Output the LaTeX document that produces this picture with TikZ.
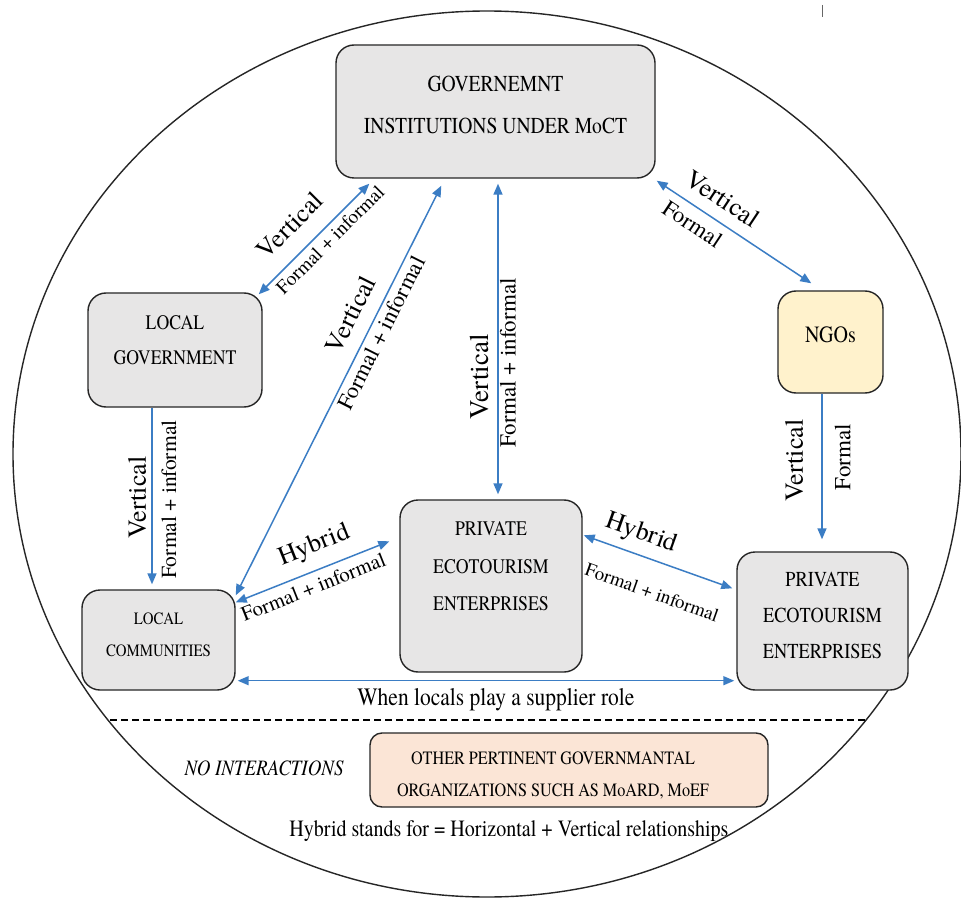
\documentclass[tikz,border=0pt]{standalone}
\usepackage{fontspec}
\setmainfont{texgyretermes}[Extension=.otf, UprightFont=*-regular,
  ItalicFont=*-italic, BoldFont=*-bold, BoldItalicFont=*-bolditalic]
\newfontfamily\narrowfont{texgyretermes}[Extension=.otf, UprightFont=*-regular,
  ItalicFont=*-italic, BoldFont=*-bold, BoldItalicFont=*-bolditalic, FakeStretch=0.86]
\usetikzlibrary{arrows.meta,calc}

\definecolor{linkblue}{RGB}{59,125,196}
\definecolor{boxgray}{RGB}{231,230,230}
\definecolor{ngoyellow}{RGB}{255,242,204}
\definecolor{otherpeach}{RGB}{251,229,214}

\newcommand\fsz[2]{\fontsize{#1}{#2}\selectfont}

\begin{document}
\begin{tikzpicture}[x=1pt,y=-1pt,
  >={Triangle[length=11pt,width=9pt]},
  actor/.style={draw=black!85, line width=1.4pt, rounded corners=18pt,
                fill=boxgray, inner sep=0pt},
  boxtext/.style={align=center, inner sep=0pt, text=black},
  link/.style={draw=linkblue, line width=1.5pt},
  linkboth/.style={link, <->},
  linkback/.style={link, <-},
  lbl/.style={sloped, inner sep=0pt, text=black},
]
\useasboundingbox (0,0) rectangle (961,901);
\fill[white] (0,0) rectangle (961,901);

% enclosing oval
\draw[line width=1.4pt, black!85] (487,454) ellipse [x radius=474pt, y radius=443pt];
\draw[line width=0.8pt, black!60] (822,5) -- (822,17);

% separator between interacting and non-interacting actors
\begin{scope}
  \clip (487,454) ellipse [x radius=474pt, y radius=443pt];
  \draw[line width=1.2pt, dash pattern=on 7pt off 4pt] (0,720) -- (961,720);
\end{scope}

% actors
\node[actor, minimum width=319pt, minimum height=133pt] (gov) at (495.5,111.5) {};
\node[boxtext, font=\narrowfont\fsz{22.8}{42}] (govtxt) at (495.5,105)
  {GOVERNEMNT\\INSTITUTIONS UNDER MoCT};

\node[actor, minimum width=174pt, minimum height=114pt] (lg) at (175,350) {};
\node[boxtext, font=\narrowfont\fsz{20.6}{35}] (lgtxt) at (175,340)
  {LOCAL\\GOVERNMENT};

\node[actor, minimum width=153pt, minimum height=100pt] (lc) at (158.5,640) {};
\node[boxtext, font=\narrowfont\fsz{17.3}{32}] (lctxt) at (158.5,634.5)
  {LOCAL\\COMMUNITIES};

\node[actor, minimum width=182pt, minimum height=172pt] (pr1) at (491,586) {};
\node[boxtext, font=\narrowfont\fsz{20.7}{37.5}] (pr1txt) at (491,566.5)
  {PRIVATE\\ECOTOURISM\\ENTERPRISES};

\node[actor, minimum width=171pt, minimum height=138pt] (pr2) at (822.5,621) {};
\node[boxtext, font=\narrowfont\fsz{21.3}{36}] (pr2txt) at (822.5,615.5)
  {PRIVATE\\ECOTOURISM\\ENTERPRISES};

\node[actor, fill=ngoyellow, minimum width=105pt, minimum height=102pt] (ngo) at (830.5,342) {};
\node[boxtext, font=\narrowfont\fsz{23.3}{28}] (ngotxt) at (830.5,334.5) {NGOs};

\node[actor, fill=otherpeach, rounded corners=12pt, minimum width=398pt, minimum height=74pt] (oth) at (569,770) {};
\node[boxtext, font=\narrowfont\fsz{18.8}{32}] (othtxt) at (553,775)
  {OTHER PERTINENT GOVERNMANTAL\\ORGANIZATIONS SUCH AS MoARD, MoEF};

\node[inner sep=0pt, font=\narrowfont\itshape\fsz{22}{26}] (noint) at (264,768) {NO INTERACTIONS};
\node[inner sep=0pt, font=\narrowfont\fsz{23.3}{28}] (legend) at (509,831)
  {Hybrid stands for = Horizontal + Vertical relationships};

% relationships
\draw[linkboth] ($(lg.north east)+(-4,2)$) --
  node[lbl, pos=.45, above=17pt, font=\fsz{26}{30}] (l1a) {Vertical}
  node[lbl, pos=.57, below=4.4pt, font=\fsz{19.5}{22}] (l1b) {Formal + informal}
  ($(gov.south west)+(34,5)$);

\draw[linkboth] ($(lc.north east)+(0,6)$) --
  node[lbl, pos=.66, above=13.7pt, font=\fsz{26}{30}] (l2a) {Vertical}
  node[lbl, pos=.654, below=3.8pt, font=\fsz{22.8}{26}] (l2b) {Formal + informal}
  ($(gov.south west)+(106,7)$);

\draw[linkboth] ($(pr1.north)+(7,-5)$) --
  node[lbl, pos=.378, above=8.2pt, font=\fsz{27}{30}] (l3a) {Vertical}
  node[lbl, pos=.423, below=1.2pt, font=\fsz{23}{26}] (l3b) {Formal + informal}
  ($(gov.south)+(2.5,5)$);

\draw[linkboth] ($(gov.south east)+(1,2)$) --
  node[lbl, pos=.35, above=12pt, font=\fsz{26}{30}] (l4a) {Vertical}
  node[lbl, pos=.29, below=7.6pt, font=\fsz{23}{26}] (l4b) {Formal}
  ($(ngo.north west)+(34,-7)$);

\draw[linkback] ($(pr2.north)+(-0.5,-12)$) --
  node[lbl, pos=.54, above=18pt, font=\fsz{26}{30}] (l5a) {Vertical}
  node[lbl, pos=.565, below=12pt, font=\fsz{23}{26}] (l5b) {Formal}
  ($(ngo.south)+(-8.5,0)$);

\draw[linkback] ($(lc.north)+(-6.5,-5)$) --
  node[lbl, pos=.49, above=5.2pt, font=\fsz{26}{30}] (l6a) {Vertical}
  node[lbl, pos=.48, below=8.7pt, font=\fsz{21.5}{25}] (l6b) {Formal + informal}
  ($(lg.south)+(-23,0)$);

\draw[linkboth] ($(lc.north east)+(0,13)$) --
  node[lbl, pos=.57, above=11pt, font=\fsz{26}{30}] (l7a) {Hybrid}
  node[lbl, pos=.47, below=6.6pt, font=\fsz{20.8}{24}] (l7b) {Formal + informal}
  ($(pr1.north west)+(-10,42)$);

\draw[linkboth] ($(pr1.north east)+(1,36)$) --
  node[lbl, pos=.34, above=8.4pt, font=\fsz{26}{30}] (l8a) {Hybrid}
  node[lbl, pos=.53, below=23.5pt, font=\fsz{19}{22}] (l8b) {Formal + informal}
  ($(pr2.north west)+(-4,37)$);

\draw[linkboth] ($(lc.south east)+(2,-10)$) --
  node[pos=.52, below=7pt, inner sep=0pt, font=\narrowfont\fsz{25}{28}] (l9) {When locals play a supplier role}
  ($(pr2.south west)+(-2,-10)$);

\end{tikzpicture}
\end{document}
